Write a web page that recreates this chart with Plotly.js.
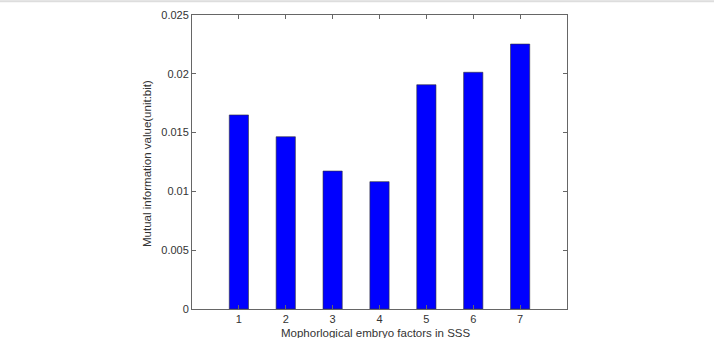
<!DOCTYPE html>
<html>
<head>
<meta charset="utf-8">
<script src="https://cdn.plot.ly/plotly-3.0.1.min.js"></script>
<style>html,body{margin:0;padding:0;background:#fff;}#chart{width:714px;height:338px;}</style>
</head>
<body>
<div id="chart"></div>
<script>
const categories = [1, 2, 3, 4, 5, 6, 7];
const mutualInfo = [0.0165, 0.01465, 0.01173, 0.01083, 0.01907, 0.02013, 0.02253];
const yTickVals = [0, 0.005, 0.01, 0.015, 0.02, 0.025];
const yTickText = ['0', '0.005', '0.01', '0.015', '0.02', '0.025'];
const xTitle = 'Mophorlogical embryo factors in SSS';
const yTitle = 'Mutual information value(unit:bit)';

const axisColor = '#666';
const fontColor = '#333';

const trace = {
  type: 'bar',
  x: categories,
  y: mutualInfo,
  width: 0.41,
  marker: {color: '#0000ff', line: {color: '#333', width: 0.6}},
  hoverinfo: 'x+y'
};

const layout = {
  width: 714, height: 338,
  margin: {l: 192, r: 147, t: 15, b: 29, pad: 0},
  paper_bgcolor: '#fff', plot_bgcolor: '#fff',
  font: {family: 'Liberation Sans, Arial, sans-serif', size: 11, color: fontColor},
  showlegend: false,
  bargap: 0,
  xaxis: {
    range: [0, 8],
    tickvals: categories,
    ticktext: categories.map(String),
    ticks: 'inside', ticklen: 4, tickcolor: axisColor,
    showline: true, linecolor: axisColor, linewidth: 1, mirror: 'ticks',
    showgrid: false, zeroline: false,
    tickfont: {size: 11, color: fontColor}
  },
  yaxis: {
    range: [0, 0.025],
    tickvals: yTickVals,
    ticktext: yTickText,
    ticks: 'inside', ticklen: 4, tickcolor: axisColor,
    showline: true, linecolor: axisColor, linewidth: 1, mirror: 'ticks',
    showgrid: false, zeroline: false,
    tickfont: {size: 11, color: fontColor}
  },
  annotations: [
    {text: xTitle, xref: 'paper', yref: 'paper', x: 0.5, y: 0, xanchor: 'center', yanchor: 'middle',
     xshift: -3.5, yshift: -23.5, showarrow: false, font: {size: 11.5, color: fontColor}},
    {text: yTitle, xref: 'paper', yref: 'paper', x: 0, y: 0.5, xanchor: 'center', yanchor: 'middle',
     xshift: -45, yshift: -2, textangle: -90, showarrow: false, font: {size: 11.5, color: fontColor}}
  ],
  shapes: [
    {type: 'line', xref: 'paper', yref: 'paper', x0: -0.6, x1: 1.5, y0: 1.047, y1: 1.047,
     line: {color: '#ddd', width: 2}}
  ]
};

Plotly.newPlot('chart', [trace], layout, {displayModeBar: false, staticPlot: true});
</script>
</body>
</html>
